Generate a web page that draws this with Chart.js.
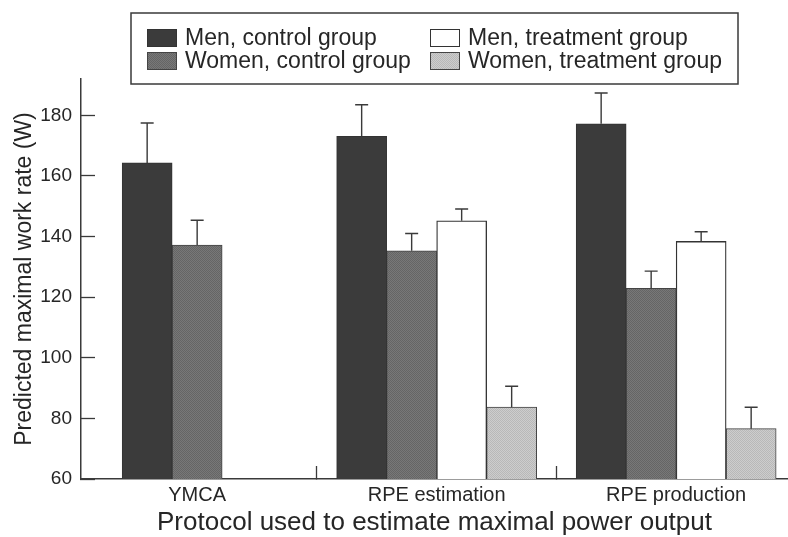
<!DOCTYPE html>
<html>
<head>
<meta charset="utf-8">
<script src="https://cdn.jsdelivr.net/npm/chart.js@4.4.1/dist/chart.umd.min.js"></script>
<style>
  html, body { margin: 0; padding: 0; background: #ffffff; }
  canvas { display: block; }
</style>
</head>
<body>
<canvas id="chart" width="788" height="537"></canvas>
<script>
// ---------- data ----------
const categories = ['YMCA', 'RPE estimation', 'RPE production'];
const seriesNames = ['Men, control group', 'Women, control group', 'Men, treatment group', 'Women, treatment group'];

const menControl        = [164.3, 173.1, 177.2];
const menControlErr     = [13.2, 10.4, 10.2];
const womenControl      = [137.2, 135.3, 122.9];
const womenControlErr   = [8.2, 5.7, 5.7];
const menTreatment      = [null, 145.2, 138.4];
const menTreatmentErr   = [null, 3.9, 3.2];
const womenTreatment    = [null, 83.7, 76.6];
const womenTreatmentErr = [null, 6.9, 7.1];
// the YMCA group keeps one empty (zero-height) slot after its two bars
const emptySlot         = [60, null, null];

const yTickValues = [60, 80, 100, 120, 140, 160, 180];

const xLabel = 'Protocol used to estimate maximal power output';
const yLabel = 'Predicted maximal work rate (W)';

// ---------- styling helpers ----------
const FONT = "'Liberation Sans', Arial, Helvetica, sans-serif";
const canvas = document.getElementById('chart');
const ctx0 = canvas.getContext('2d');

function stipple(a, b) {
  const p = document.createElement('canvas');
  p.width = 2; p.height = 2;
  const g = p.getContext('2d');
  g.fillStyle = a; g.fillRect(0, 0, 2, 2);
  g.fillStyle = b; g.fillRect(0, 0, 1, 1); g.fillRect(1, 1, 1, 1);
  return ctx0.createPattern(p, 'repeat');
}

const toPoints = arr => arr.map((v, i) => ({ x: i, y: v }));

// x tick values: one per category plus a separator between categories
const xTickValues = [];
categories.forEach((c, i) => { if (i > 0) xTickValues.push(i - 0.5); xTickValues.push(i); });

// ---------- plugins ----------
const errorBars = {
  id: 'errorBars',
  afterDatasetsDraw(chart) {
    const ctx = chart.ctx;
    const yScale = chart.scales.y;
    chart.data.datasets.forEach((ds, di) => {
      if (!ds.errors) return;
      const meta = chart.getDatasetMeta(di);
      meta.data.forEach((bar, i) => {
        const v = ds.data[i].y, e = ds.errors[i];
        if (v == null || e == null) return;
        const top = yScale.getPixelForValue(v + e);
        ctx.save();
        ctx.strokeStyle = '#3a3a3a';
        ctx.lineWidth = 1.4;
        ctx.beginPath();
        ctx.moveTo(bar.x, bar.y);
        ctx.lineTo(bar.x, top);
        ctx.moveTo(bar.x - 6.5, top);
        ctx.lineTo(bar.x + 6.5, top);
        ctx.stroke();
        ctx.restore();
      });
    });
  }
};

const boxLegend = {
  id: 'boxLegend',
  afterDraw(chart, args, o) {
    const ctx = chart.ctx;
    ctx.save();
    ctx.strokeStyle = '#3a3a3a';
    ctx.lineWidth = 1.5;
    ctx.strokeRect(o.left, o.top, o.width, o.height);
    const items = chart.data.datasets.filter(d => !d.spacer);
    ctx.font = o.fontSize + 'px ' + FONT;
    ctx.textBaseline = 'middle';
    items.forEach((ds, k) => {
      const col = Math.floor(k / 2), row = k % 2;
      const sx = o.colX[col], cy = o.rowY[row];
      ctx.fillStyle = ds.backgroundColor;
      ctx.fillRect(sx, cy - o.boxH / 2, o.boxW, o.boxH);
      ctx.strokeStyle = ds.borderColor;
      ctx.lineWidth = 1;
      ctx.strokeRect(sx + 0.5, cy - o.boxH / 2 + 0.5, o.boxW - 1, o.boxH - 1);
      ctx.fillStyle = '#262626';
      ctx.fillText(ds.label, sx + o.boxW + 8, cy + 1);
    });
    ctx.restore();
  }
};

// ---------- chart ----------
const datasets = [
  { label: seriesNames[0], data: toPoints(menControl), errors: menControlErr,
    backgroundColor: '#3b3b3b', borderColor: '#333333', borderWidth: 1 },
  { label: seriesNames[1], data: toPoints(womenControl), errors: womenControlErr,
    backgroundColor: stipple('#787878', '#656565'), borderColor: '#444444', borderWidth: 1 },
  { label: '', data: toPoints(emptySlot), spacer: true,
    backgroundColor: 'rgba(0,0,0,0)', borderColor: 'rgba(0,0,0,0)', borderWidth: 0 },
  { label: seriesNames[2], data: toPoints(menTreatment), errors: menTreatmentErr,
    backgroundColor: '#ffffff', borderColor: '#333333', borderWidth: 1.3 },
  { label: seriesNames[3], data: toPoints(womenTreatment), errors: womenTreatmentErr,
    backgroundColor: stipple('#cdcdcd', '#b8b8b8'), borderColor: '#444444', borderWidth: 1 }
];

new Chart(canvas, {
  type: 'bar',
  data: { datasets },
  plugins: [errorBars, boxLegend],
  options: {
    responsive: false,
    animation: false,
    devicePixelRatio: 1,
    layout: { padding: { top: 79, left: 0, right: 0, bottom: 0 } },
    datasets: { bar: { barThickness: 50, skipNull: true, grouped: true } },
    scales: {
      x: {
        type: 'linear',
        min: -0.485,
        max: 2.467,
        offset: false,
        afterBuildTicks: s => { s.ticks = xTickValues.map(v => ({ value: v })); },
        afterFit: s => { s.height = 58; },
        ticks: {
          autoSkip: false, maxRotation: 0, minRotation: 0,
          padding: 17,
          color: '#262626',
          font: { family: FONT, size: 20 },
          callback: v => Number.isInteger(v) ? categories[v] : ''
        },
        grid: {
          drawOnChartArea: false, offset: false,
          tickLength: -13, tickWidth: 1.3,
          tickColor: c => (c.tick && Number.isInteger(c.tick.value)) ? 'rgba(0,0,0,0)' : '#3a3a3a'
        },
        border: { display: true, color: '#3a3a3a', width: 1.5 },
        title: {
          display: true, text: xLabel, color: '#262626',
          font: { family: FONT, size: 26 },
          padding: { top: 0, bottom: -1 }
        }
      },
      y: {
        type: 'linear',
        min: 60,
        max: 192,
        afterBuildTicks: s => { s.ticks = yTickValues.map(v => ({ value: v })); },
        afterFit: s => { s.width = 81; },
        ticks: {
          padding: 23,
          color: '#262626',
          font: { family: FONT, size: 19 }
        },
        grid: {
          drawOnChartArea: false,
          tickLength: -14, tickWidth: 1.3, tickColor: '#3a3a3a'
        },
        border: { display: true, color: '#3a3a3a', width: 1.5 },
        title: {
          display: true, text: yLabel, color: '#262626',
          font: { family: FONT, size: 23 },
          padding: { top: 11, bottom: 0 }
        }
      }
    },
    plugins: {
      legend: { display: false },
      tooltip: { enabled: false },
      boxLegend: {
        left: 131, top: 13, width: 607, height: 71,
        colX: [147, 430], rowY: [38, 61],
        boxW: 30, boxH: 18, fontSize: 23
      }
    }
  }
});
</script>
</body>
</html>
